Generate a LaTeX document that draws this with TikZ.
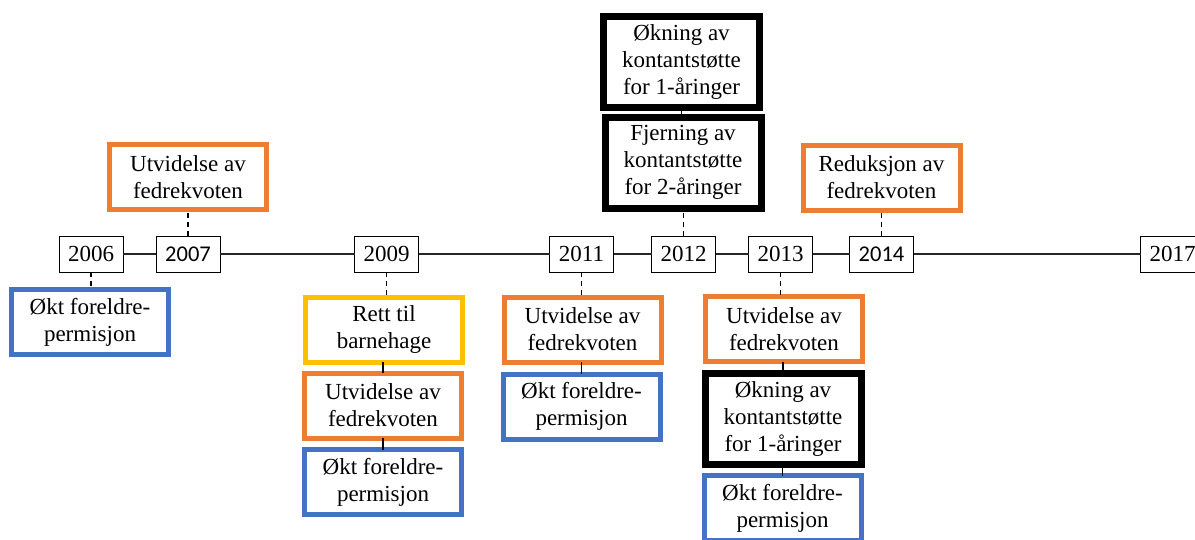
\documentclass[tikz,border=0pt]{standalone}
\usepackage{fontspec}
\setmainfont{Liberation Serif}
\newfontfamily\calib{Carlito}
\definecolor{orng}{HTML}{ED7D31}
\definecolor{blu}{HTML}{4472C4}
\definecolor{yel}{HTML}{FFC000}
\begin{document}
\begin{tikzpicture}[x=1pt,y=-1pt,
  yr/.style={draw, line width=1pt, fill=white, inner sep=0pt, outer sep=0pt,
    minimum width=64pt, minimum height=36pt, font=\fontsize{23}{27}\selectfont},
  yrsans/.style={yr, font=\calib\fontsize{22.5}{27}\selectfont},
  ev/.style={draw, line width=5pt, fill=white, align=center, inner sep=0pt, outer sep=0pt,
    minimum width=157pt, minimum height=65pt, font=\fontsize{23}{27}\selectfont},
  obox/.style={ev, draw=orng},
  bbox/.style={ev, draw=blu},
  ybox/.style={ev, draw=yel},
  kbox/.style={ev, draw=black, line width=7pt, minimum width=156pt, minimum height=91pt},
  dconn/.style={line width=1.5pt, dash pattern=on 5pt off 4pt},
  sconn/.style={line width=1.5pt},
  tl/.style={line width=1.5pt, draw=black!85}
]
\useasboundingbox (0,0) rectangle (1195,539);
\clip (0,0) rectangle (1195,539);
\fill[white] (0,0) rectangle (1195,539);

% year boxes
\node[yr] (y2006) at (91,254) {2006};
\node[yrsans] (y2007) at (188,254) {2007};
\node[yr] (y2009) at (386.5,254) {2009};
\node[yr] (y2011) at (581.5,254) {2011};
\node[yr] (y2012) at (683.5,254) {2012};
\node[yr] (y2013) at (780.5,254) {2013};
\node[yrsans] (y2014) at (881.5,254) {2014};
\node[yr] (y2017) at (1172.5,254) {2017};

\draw[tl] (y2006) -- (y2007) -- (y2009) -- (y2011) -- (y2012) -- (y2013) -- (y2014) -- (y2017);

% events
\node[obox] (e2007) at (188,177) {Utvidelse av\\fedrekvoten};
\node[bbox] (e2006) at (90,322) {Økt foreldre-\\permisjon};

\node[ybox] (e2009a) at (384,329.5) {Rett til\\barnehage};
\node[obox] (e2009b) at (383,405.5) {Utvidelse av\\fedrekvoten};
\node[bbox] (e2009c) at (383,482) {Økt foreldre-\\permisjon};

\node[obox] (e2011a) at (582.5,329.5) {Utvidelse av\\fedrekvoten};
\node[bbox] (e2011b) at (581.5,406.5) {Økt foreldre-\\permisjon};

\node[kbox] (e2012a) at (681.5,61.5) {Økning av\\kontantstøtte\\for 1-åringer};
\node[kbox] (e2012b) at (683,162.5) {Fjerning av\\kontantstøtte\\for 2-åringer};

\node[obox] (e2013a) at (784,329) {Utvidelse av\\fedrekvoten};
\node[kbox] (e2013b) at (783,419) {Økning av\\kontantstøtte\\for 1-åringer};
\node[bbox] (e2013c) at (782.5,508) {Økt foreldre-\\permisjon};

\node[obox] (e2014) at (881.5,177.5) {Reduksjon av\\fedrekvoten};

% connectors
\draw[dconn] (y2007.north) -- (y2007.north |- e2007.south);
\draw[dconn] (y2006.south) -- (y2006.south |- e2006.north);
\draw[dconn] (y2009.south) -- (y2009.south |- e2009a.north);
\draw[sconn] (e2009b.north |- e2009a.south) -- (e2009b.north);
\draw[sconn] (e2009b.south) -- (e2009c.north);
\draw[dconn] (y2011.south) -- (y2011.south |- e2011a.north);
\draw[sconn] (e2011b.north |- e2011a.south) -- (e2011b.north);
\draw[dconn] (y2012.north) -- (y2012.north |- e2012b.south);
\draw[sconn] (e2012a.south |- e2012b.north) -- (e2012a.south);
\draw[dconn] (y2013.south) -- (y2013.south |- e2013a.north);
\draw[sconn] (e2013b.north |- e2013a.south) -- (e2013b.north);
\draw[sconn] (e2013c.north |- e2013b.south) -- (e2013c.north);
\draw[dconn] (y2014.north) -- (y2014.north |- e2014.south);
\end{tikzpicture}
\end{document}
